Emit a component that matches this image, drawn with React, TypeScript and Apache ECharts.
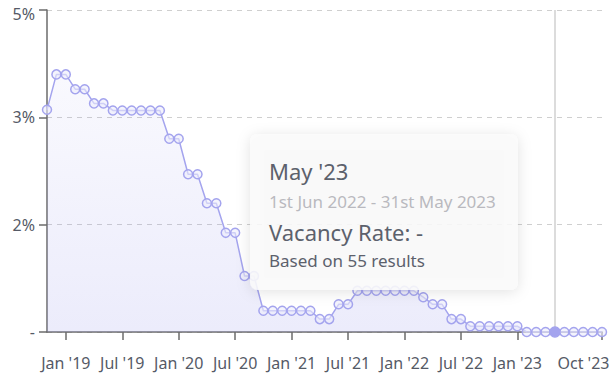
import React, { useEffect, useRef } from "react";
import * as echarts from "echarts";

const months: string[] = [
  "Nov '18", "Dec '18",
  "Jan '19", "Feb '19", "Mar '19", "Apr '19", "May '19", "Jun '19", "Jul '19", "Aug '19", "Sep '19", "Oct '19", "Nov '19", "Dec '19",
  "Jan '20", "Feb '20", "Mar '20", "Apr '20", "May '20", "Jun '20", "Jul '20", "Aug '20", "Sep '20", "Oct '20", "Nov '20", "Dec '20",
  "Jan '21", "Feb '21", "Mar '21", "Apr '21", "May '21", "Jun '21", "Jul '21", "Aug '21", "Sep '21", "Oct '21", "Nov '21", "Dec '21",
  "Jan '22", "Feb '22", "Mar '22", "Apr '22", "May '22", "Jun '22", "Jul '22", "Aug '22", "Sep '22", "Oct '22", "Nov '22", "Dec '22",
  "Jan '23", "Feb '23", "Mar '23", "Apr '23", "May '23", "Jun '23", "Jul '23", "Aug '23", "Sep '23", "Oct '23",
];

const vacancyRate: number[] = [
  3.45, 4.0,
  4.0, 3.77, 3.77, 3.55, 3.55, 3.44, 3.44, 3.44, 3.44, 3.44, 3.44, 3.0,
  3.0, 2.45, 2.45, 2.0, 2.0, 1.54, 1.54, 0.87, 0.87, 0.33, 0.33, 0.33,
  0.33, 0.33, 0.33, 0.2, 0.2, 0.43, 0.43, 0.64, 0.64, 0.64, 0.64, 0.64,
  0.64, 0.64, 0.54, 0.43, 0.43, 0.2, 0.2, 0.09, 0.09, 0.09, 0.09, 0.09,
  0.09, 0, 0, 0, 0, 0, 0, 0, 0, 0,
];

const shownLabels: string[] = [
  "Jan '19", "Jul '19", "Jan '20", "Jul '20", "Jan '21", "Jul '21", "Jan '22", "Jul '22", "Jan '23", "Oct '23",
];

const hoveredMonth = "May '23";
const tooltipTitle = "May '23";
const tooltipPeriod = "1st Jun 2022 - 31st May 2023";
const tooltipValue = "Vacancy Rate: -";
const tooltipCount = "Based on 55 results";

const FONT = "'Noto Sans', 'Open Sans', sans-serif";
const LINE = "#a4a4ee";

export default function App() {
  const ref = useRef<HTMLDivElement>(null);

  useEffect(() => {
    if (!ref.current) return;
    const chart = echarts.init(ref.current, undefined, { renderer: "svg", width: 613, height: 375 });
    const showLabel = (_i: number, v: string) => shownLabels.includes(v);
    const hoveredIndex = months.indexOf(hoveredMonth);
    const lastIndex = months.length - 1;

    chart.setOption({
      animation: false,
      textStyle: { fontFamily: FONT },
      grid: { left: 47, right: 11, top: 10, bottom: 43, containLabel: false, outerBoundsMode: "none" },
      xAxis: {
        type: "category",
        data: months.map((m, i) =>
          i === lastIndex ? { value: m, textStyle: { padding: [0, 37, 0, 0] } } : m
        ),
        boundaryGap: false,
        min: 0,
        max: lastIndex,
        axisLine: { lineStyle: { color: "#6b6b6b", width: 1.5 } },
        axisTick: { interval: showLabel, length: 8, lineStyle: { color: "#6b6b6b", width: 1.5 } },
        axisLabel: { interval: showLabel, margin: 23, fontSize: 16, color: "#555a66", fontFamily: FONT, hideOverlap: false },
        splitLine: { show: false },
      },
      yAxis: {
        type: "value",
        min: 0,
        max: 5,
        interval: 5 / 3,
        axisLine: { show: true, lineStyle: { color: "#6b6b6b", width: 1.5 } },
        axisTick: { show: true, length: 8, lineStyle: { color: "#6b6b6b", width: 1.5 } },
        axisLabel: {
          margin: 12,
          fontSize: 16,
          color: "#555a66",
          fontFamily: FONT,
          formatter: (v: number) => (v === 0 ? "-" : v >= 5 ? "{top|" + Math.round(v) + "%}" : Math.round(v) + "%"),
          rich: { top: { fontSize: 16, color: "#555a66", fontFamily: FONT, padding: [8, 0, 0, 0] } },
        },
        splitLine: { show: true, lineStyle: { color: "#cfcfcf", type: [5, 5], width: 1.2 } },
      },
      series: [
        {
          type: "line",
          data: vacancyRate.map((v, i) =>
            i === hoveredIndex
              ? { value: v, symbolSize: 10, itemStyle: { color: LINE, borderColor: LINE } }
              : v
          ),
          symbol: "circle",
          symbolSize: 9,
          showAllSymbol: true,
          lineStyle: { color: LINE, width: 1.5 },
          itemStyle: { color: "rgba(236,236,252,0.6)", borderColor: LINE, borderWidth: 1.5 },
          areaStyle: {
            color: new echarts.graphic.LinearGradient(0, 0, 0, 1, [
              { offset: 0, color: "rgba(150,150,235,0.08)" },
              { offset: 1, color: "rgba(150,150,235,0.26)" },
            ]),
          },
          markLine: {
            silent: true,
            symbol: "none",
            label: { show: false },
            lineStyle: { color: "#d0d0d0", type: "solid", width: 1.5 },
            data: [{ xAxis: hoveredIndex }],
            z: 1,
          },
          z: 3,
        },
      ],
      graphic: [
        {
          type: "rect",
          z: 100,
          shape: { x: 250, y: 134, width: 268, height: 156, r: 8 },
          style: {
            fill: "rgba(251,251,251,0.88)",
            shadowBlur: 14,
            shadowColor: "rgba(0,0,0,0.13)",
            shadowOffsetY: 2,
          },
        },
        {
          type: "text",
          z: 101,
          x: 269,
          y: 171,
          style: { text: tooltipTitle, fontSize: 22, fontFamily: FONT, fill: "#5c616c", verticalAlign: "middle" },
        },
        {
          type: "text",
          z: 101,
          x: 269,
          y: 201,
          style: { text: tooltipPeriod, fontSize: 17, fontFamily: FONT, fill: "#b9b9bf", verticalAlign: "middle" },
        },
        {
          type: "text",
          z: 101,
          x: 269,
          y: 232,
          style: { text: tooltipValue, fontSize: 22, fontFamily: FONT, fill: "#5c616c", verticalAlign: "middle" },
        },
        {
          type: "text",
          z: 101,
          x: 269,
          y: 260,
          style: { text: tooltipCount, fontSize: 17, fontFamily: FONT, fill: "#5c616c", verticalAlign: "middle" },
        },
      ],
    });

    return () => chart.dispose();
  }, []);

  return <div ref={ref} style={{ width: 613, height: 375, position: "absolute", left: 0, top: 0 }} />;
}
